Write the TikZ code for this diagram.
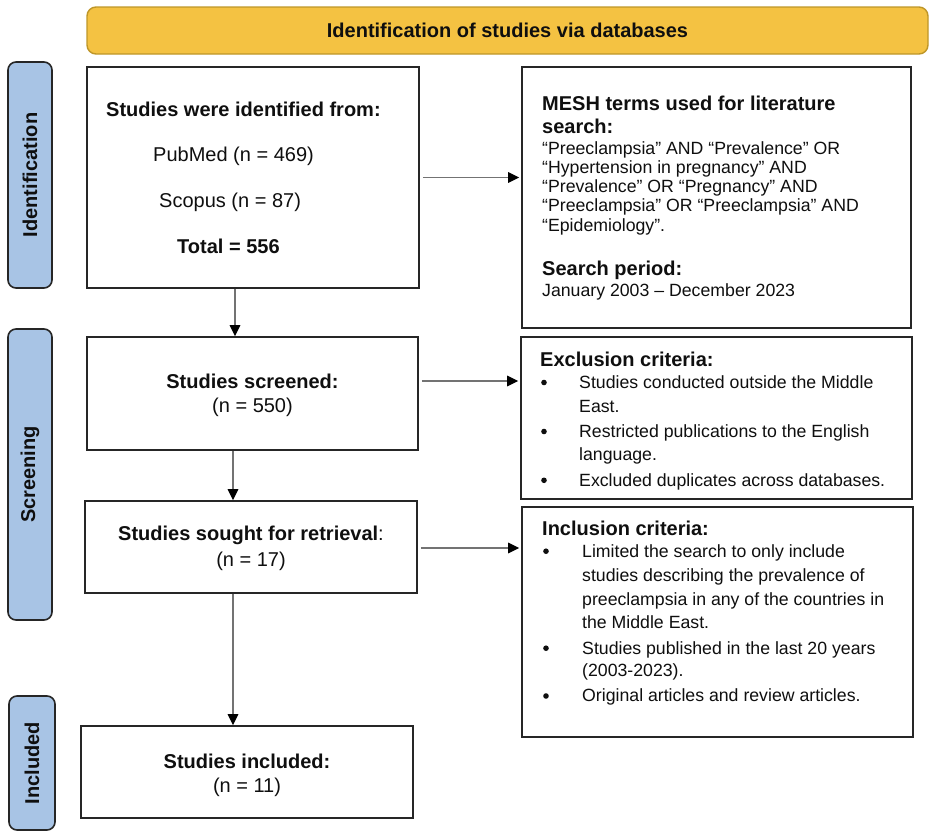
\documentclass[tikz,border=0pt]{standalone}
\usepackage{fontspec}
\setmainfont{Liberation Sans}
\usetikzlibrary{arrows.meta,calc}
\definecolor{tabblue}{RGB}{168,196,229}
\definecolor{banfill}{RGB}{244,194,66}
\definecolor{banedge}{RGB}{190,150,40}
\definecolor{linegray}{RGB}{115,115,115}
\definecolor{ink}{RGB}{15,15,15}
\begin{document}
\begin{tikzpicture}[x=1pt,y=-1pt,
  box/.style={draw=black!85, line width=1.6pt, fill=white, inner sep=0pt},
  tabbox/.style={draw=black!85, line width=1.6pt, fill=tabblue, rounded corners=8pt, inner sep=0pt},
  banner/.style={draw=banedge, line width=1.4pt, fill=banfill, rounded corners=9pt, inner sep=0pt,
    font=\fontsize{20}{24}\selectfont\bfseries, text=ink},
  tablabel/.style={rotate=90, font=\fontsize{20}{24}\selectfont\bfseries, text=ink, inner sep=0pt},
  hd/.style={anchor=base west, font=\fontsize{20}{24}\selectfont\bfseries, text=ink, inner sep=0pt},
  hdc/.style={anchor=base, font=\fontsize{20}{24}\selectfont\bfseries, text=ink, inner sep=0pt},
  tl/.style={anchor=base west, font=\fontsize{20}{24}\selectfont, text=ink, inner sep=0pt},
  tlc/.style={anchor=base, font=\fontsize{20}{24}\selectfont, text=ink, inner sep=0pt},
  sm/.style={anchor=base west, font=\fontsize{17.7}{20}\selectfont, text=ink, inner sep=0pt},
  bul/.style={circle, fill=ink, inner sep=0pt, minimum size=5.6pt},
  arr/.style={draw=linegray, line width=1.25pt, -{Triangle[length=11pt,width=10.5pt,color=black]}}
]
\useasboundingbox (0,0) rectangle (935,838);

% banner
\node[banner, minimum width=841pt, minimum height=47pt] (ban) at (507.5,30.5) {Identification of studies via databases};

% stage tabs
\node[tabbox, minimum width=44pt, minimum height=226pt] (tab1) at (30,175) {};
\node[tablabel] (tab1t) at (tab1) {Identification};
\node[tabbox, minimum width=44pt, minimum height=291pt] (tab2) at (30,474.5) {};
\node[tablabel] (tab2t) at (tab2) {Screening};
\node[tabbox, minimum width=46pt, minimum height=134pt] (tab3) at (32,763) {};
\node[tablabel] (tab3t) at (tab3) {Included};

% left boxes
\node[box, minimum width=332pt, minimum height=221pt] (b1) at (253,177.5) {};
\node[hd] (b1a) at (106,116) {Studies were identified from:};
\node[tl] (b1b) at (153,161) {PubMed (n = 469)};
\node[tl] (b1c) at (159,207) {Scopus (n = 87)};
\node[hd] (b1d) at (177,253) {Total = 556};

\node[box, minimum width=331pt, minimum height=113pt] (b2) at (252.5,393.5) {};
\node[hdc] (b2a) at (252.5,388) {Studies screened:};
\node[tlc] (b2b) at (252.5,412.7) {(n = 550)};

\node[box, minimum width=332pt, minimum height=92pt] (b3) at (251,547) {};
\node[hdc] (b3a) at (251,540.5) {Studies sought for retrieval\mdseries:};
\node[tlc] (b3b) at (251,566) {(n = 17)};

\node[box, minimum width=332pt, minimum height=92pt] (b4) at (247,772) {};
\node[hdc] (b4a) at (247,768.5) {Studies included:};
\node[tlc] (b4b) at (247,792.5) {(n = 11)};

% right boxes
\node[box, minimum width=389pt, minimum height=261pt] (mesh) at (716.5,197.5) {};
\node[hd] (m1) at (542,110) {MESH terms used for literature};
\node[hd] (m2) at (542,133) {search:};
\node[sm] (m3) at (542,154.3) {“Preeclampsia” AND “Prevalence” OR};
\node[sm] (m4) at (542,173.5) {“Hypertension in pregnancy” AND};
\node[sm] (m5) at (542,192.7) {“Prevalence” OR “Pregnancy” AND};
\node[sm] (m6) at (542,211.9) {“Preeclampsia” OR “Preeclampsia” AND};
\node[sm] (m7) at (542,231.1) {“Epidemiology”.};
\node[hd] (m8) at (542,275) {Search period:};
\node[sm] (m9) at (542,296) {January 2003 – December 2023};

\node[box, minimum width=391pt, minimum height=162pt] (excl) at (716.5,418) {};
\node[hd] (e0) at (540,366) {Exclusion criteria:};
\node[bul] (eb1) at (544,382.5) {};
\node[sm] (e1) at (579,388.3) {Studies conducted outside the Middle};
\node[sm] (e2) at (579,412.3) {East.};
\node[bul] (eb2) at (544,431.5) {};
\node[sm] (e3) at (579,437.3) {Restricted publications to the English};
\node[sm] (e4) at (579,460.5) {language.};
\node[bul] (eb3) at (544,480.3) {};
\node[sm] (e5) at (579,486) {Excluded duplicates across databases.};

\node[box, minimum width=391pt, minimum height=230pt] (incl) at (717.5,622) {};
\node[hd] (i0) at (542,535) {Inclusion criteria:};
\node[bul] (ib1) at (546,551.2) {};
\node[sm] (i1) at (582,557) {Limited the search to only include};
\node[sm] (i2) at (582,581) {studies describing the prevalence of};
\node[sm] (i3) at (582,605) {preeclampsia in any of the countries in};
\node[sm] (i4) at (582,628.5) {the Middle East.};
\node[bul] (ib2) at (546,648.2) {};
\node[sm] (i5) at (582,654) {Studies published in the last 20 years};
\node[sm] (i6) at (582,676.5) {(2003-2023).};
\node[bul] (ib3) at (546,696) {};
\node[sm] (i7) at (582,701.7) {Original articles and review articles.};

% vertical connectors
\coordinate (v1) at ([xshift=-18pt]b1.south);
\draw[arr] (v1) -- (v1 |- b2.north);
\coordinate (v2) at ([xshift=-19.5pt]b2.south);
\draw[arr] (v2) -- (v2 |- b3.north);
\coordinate (v3) at ([xshift=-18pt]b3.south);
\draw[arr] (v3) -- (v3 |- b4.north);

% horizontal connectors
\coordinate (h1) at ([xshift=3pt]b1.east);
\draw[arr, shorten >=2pt] (h1) -- (h1 -| mesh.west);
\coordinate (h2) at ([xshift=3pt,yshift=12.5pt]b2.east);
\draw[arr, shorten >=2pt] (h2) -- (h2 -| excl.west);
\coordinate (h3) at ([xshift=3pt,yshift=-1pt]b3.east);
\draw[arr, shorten >=2pt] (h3) -- (h3 -| incl.west);
\end{tikzpicture}
\end{document}
